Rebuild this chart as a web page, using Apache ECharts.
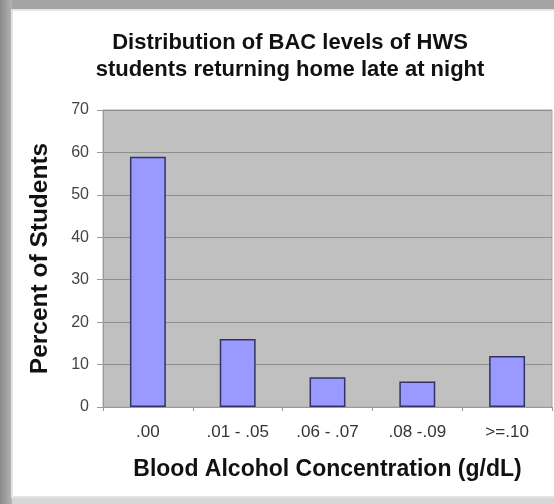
<!DOCTYPE html>
<html><head><meta charset="utf-8">
<script src="https://cdn.jsdelivr.net/npm/echarts@6/dist/echarts.min.js"></script>
<style>html,body{margin:0;padding:0;background:#a4a4a4;}#c{width:554px;height:504px;}</style>
</head><body><div id="c"></div>
<script>
const categories = ['.00', '.01 - .05', '.06 - .07', '.08 -.09', '>=.10'];
const percents = [59, 16, 7, 6, 12];
const yTicks = [0, 10, 20, 30, 40, 50, 60, 70];

const FONT = 'Liberation Sans, Arial, sans-serif';
const chart = echarts.init(document.getElementById('c'), null, {renderer: 'canvas'});
chart.setOption({
  backgroundColor: '#a4a4a4',
  animation: false,
  graphic: [
    {type: 'rect', shape: {x: 0, y: 0, width: 12, height: 504}, z: -10,
     style: {fill: new echarts.graphic.LinearGradient(0, 0, 1, 0, [{offset: 0, color: '#8a8a8a'}, {offset: 1, color: '#b4b4b4'}])}},
    {type: 'rect', shape: {x: 12, y: 497, width: 542, height: 7}, z: -10, style: {fill: '#d6d6d6'}},
    {type: 'rect', shape: {x: 12, y: 10, width: 560, height: 487}, z: -9,
     style: {fill: '#ffffff', stroke: '#e4e4e4', lineWidth: 2}}
  ],
  title: {
    text: 'Distribution of BAC levels of HWS\nstudents returning home late at night',
    left: 285, top: 24, textAlign: 'center',
    textStyle: {fontFamily: FONT, fontSize: 22, fontWeight: 'bold', color: '#111', lineHeight: 27}
  },
  grid: {left: 103, right: 2, top: 110, bottom: 97, show: true, backgroundColor: '#c0c0c0', borderColor: '#a8a8a8', borderWidth: 1},
  xAxis: {
    type: 'category', data: categories, boundaryGap: true,
    axisLine: {show: true, lineStyle: {color: '#9a9a9a', width: 1}},
    axisTick: {show: true, alignWithLabel: false, length: 4, lineStyle: {color: '#9a9a9a'}},
    axisLabel: {color: '#333', fontFamily: FONT, fontSize: 17, margin: 17},
    name: 'Blood Alcohol Concentration (g/dL)', nameLocation: 'middle', nameGap: 51,
    nameTextStyle: {fontFamily: FONT, fontSize: 23, fontWeight: 'bold', color: '#111'}
  },
  yAxis: {
    type: 'value', min: 0, max: 70, interval: 10,
    axisLine: {show: true, lineStyle: {color: '#9a9a9a'}},
    axisTick: {show: true, length: 6, lineStyle: {color: '#9a9a9a'}},
    axisLabel: {color: '#444', fontFamily: FONT, fontSize: 16, margin: 14,
      formatter: v => yTicks.includes(v) ? String(v) : ''},
    splitLine: {show: true, lineStyle: {color: '#8e8e8e', width: 1}},
    name: 'Percent of Students', nameLocation: 'middle', nameGap: 50,
    nameTextStyle: {fontFamily: FONT, fontSize: 24.5, fontWeight: 'bold', color: '#111'}
  },
  series: [{
    type: 'bar', data: percents, barWidth: '40%',
    itemStyle: {color: '#9999ff', borderColor: '#333366', borderWidth: 1.5}
  }]
});
</script></body></html>
